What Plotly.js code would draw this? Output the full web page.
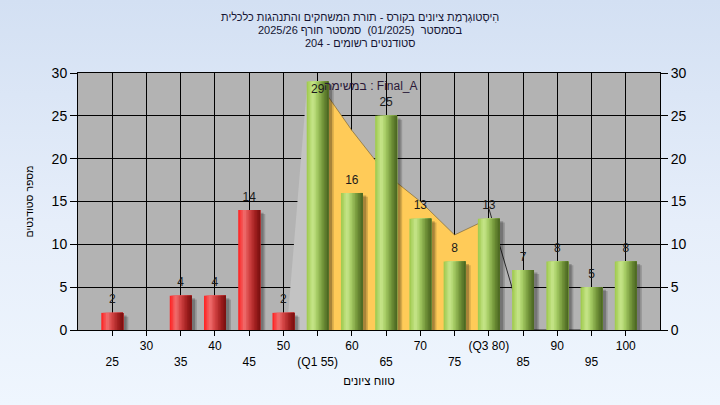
<!DOCTYPE html>
<html>
<head>
<meta charset="utf-8">
<script src="https://cdn.plot.ly/plotly-3.0.1.min.js"></script>
<style>
  html, body { margin: 0; padding: 0; }
  body { width: 720px; height: 405px; background: linear-gradient(to bottom, #d3e0f3 0%, #e6eefa 55%, #eff6fe 100%); }
  #chart { width: 720px; height: 405px; }
</style>
</head>
<body>
<div id="chart"></div>
<script>
// ---- data ----
const grades = [25, 30, 35, 40, 45, 50, 55, 60, 65, 70, 75, 80, 85, 90, 95, 100];
const counts = [2, 0, 4, 4, 14, 2, 29, 16, 25, 13, 8, 13, 7, 8, 5, 8];
const tickLabels = ['25', '30', '35', '40', '45', '50', '(Q1 55)', '60', '65', '70', '75', '(Q3 80)', '85', '90', '95', '100'];
const passGrade = 55;
// inter-quartile band (Q1 55 .. Q3 80) top edge
const bandX = [55, 60, 65, 70, 75, 80];
const bandY = [29, 23.3, 18.2, 15, 11.1, 13];
// lower whisker wedge and upper whisker line
const lowWhiskerX = [50.5, 53.5, 55];
const lowWhiskerY = [0, 29, 29];
const highWhiskerX = [80, 85.2, 95];
const highWhiskerY = [14.2, 0, 0];

const titleLines = [
  'הִיסְטוגְרָמַת ציונים בקורס - תורת המשחקים והתנהגות כלכלית',
  'בסמסטר  (01/2025)  סמסטר חורף 2025/26',
  'סטודנטים רשומים - 204'
];
const taskLabel = 'במשימה : Final_A';
const xTitle = 'טווח ציונים';
const yTitle = 'מספר סטודנטים';

// ---- styling ----
const FONT = '"Liberation Sans", Arial, sans-serif';
const BAR_W = 3.2;
const W = 720, H = 405, M = { l: 78, r: 60, t: 73, b: 75 };
const plotH = H - M.t - M.b;
const pyToPaper = py => (H - M.b - py) / plotH;
const titleRowsPx = [17, 30, 43];

const greenStops = [[0, [156, 200, 74]], [0.28, [200, 230, 140]], [0.45, [170, 208, 104]], [0.75, [112, 146, 56]], [1, [72, 98, 32]]];
const redStops = [[0, [255, 30, 30]], [0.28, [240, 112, 112]], [0.48, [214, 70, 70]], [0.78, [160, 30, 30]], [1, [118, 14, 14]]];

function interp(stops, t) {
  for (let i = 1; i < stops.length; i++) {
    if (t <= stops[i][0]) {
      const [t0, c0] = stops[i - 1], [t1, c1] = stops[i];
      const f = (t - t0) / (t1 - t0);
      const c = c0.map((v, k) => Math.round(v + (c1[k] - v) * f));
      return `rgb(${c[0]},${c[1]},${c[2]})`;
    }
  }
  const c = stops[stops.length - 1][1];
  return `rgb(${c[0]},${c[1]},${c[2]})`;
}

const traces = [];

// base subplot (drawn below the bars): band + whiskers
traces.push({
  type: 'scatter', x: lowWhiskerX, y: lowWhiskerY, mode: 'lines',
  line: { width: 0, color: 'rgba(0,0,0,0)' }, fill: 'tozeroy', fillcolor: '#c3c3c3',
  hoverinfo: 'skip', showlegend: false, xaxis: 'x', yaxis: 'y'
});
traces.push({
  type: 'scatter', x: bandX, y: bandY, mode: 'lines',
  line: { width: 1, color: 'rgba(130,105,50,0.7)' }, fill: 'tozeroy', fillcolor: '#ffcb58',
  hoverinfo: 'skip', showlegend: false, xaxis: 'x', yaxis: 'y'
});
traces.push({
  type: 'scatter', x: highWhiskerX, y: highWhiskerY, mode: 'lines',
  line: { width: 1, color: '#2a2a2a' },
  hoverinfo: 'skip', showlegend: false, xaxis: 'x', yaxis: 'y'
});

// shadows (overlay subplot)
[[0.75, 0.45, 'rgba(0,0,0,0.16)'], [0.5, 0.3, 'rgba(0,0,0,0.22)']].forEach(([dx, dy, col]) => {
  traces.push({
    type: 'bar', x: grades, y: counts.map(v => v > 0 ? v - dy : 0),
    width: BAR_W, offset: -BAR_W / 2 + dx,
    marker: { color: col, line: { width: 0 } },
    hoverinfo: 'skip', showlegend: false, xaxis: 'x', yaxis: 'y2'
  });
});

// cylinder strips
const N = 14;
for (let i = 0; i < N; i++) {
  const t = (i + 0.5) / N;
  const start = -BAR_W / 2 + i * BAR_W / N;
  traces.push({
    type: 'bar', x: grades, y: counts,
    width: BAR_W - i * BAR_W / N, offset: start,
    marker: { color: grades.map(g => interp(g < passGrade ? redStops : greenStops, t)), line: { width: 0 } },
    hoverinfo: 'skip', showlegend: false, xaxis: 'x', yaxis: 'y2'
  });
}

// value labels
const lblX = [], lblY = [], lblT = [];
grades.forEach((g, i) => {
  if (counts[i] > 0) { lblX.push(g); lblY.push(Math.min(counts[i] + 1.45, 28)); lblT.push(String(counts[i])); }
});
traces.push({
  type: 'scatter', mode: 'text', x: lblX, y: lblY, text: lblT,
  textposition: 'middle center', textfont: { family: FONT, size: 12, color: '#1a1a1a' },
  hoverinfo: 'skip', showlegend: false, xaxis: 'x', yaxis: 'y2', cliponaxis: false
});

const tickText = tickLabels.map((t, i) => (i % 2 === 0 ? '<br>' + t : t));

const annotations = titleLines.map((t, i) => ({
  text: t, xref: 'paper', yref: 'paper', x: (W / 2 - M.l) / (W - M.l - M.r), y: pyToPaper(titleRowsPx[i]),
  xanchor: 'center', yanchor: 'middle', showarrow: false,
  font: { family: FONT, size: 11, color: '#141432' }
}));
annotations.push({
  text: taskLabel, xref: 'paper', yref: 'paper', x: 0.503, y: pyToPaper(86),
  xanchor: 'center', yanchor: 'middle', showarrow: false,
  font: { family: FONT, size: 12, color: '#2a1838' }
});

const layout = {
  width: W, height: H,
  margin: M,
  paper_bgcolor: 'rgba(0,0,0,0)',
  plot_bgcolor: '#b3b3b3',
  barmode: 'overlay',
  showlegend: false,
  font: { family: FONT, color: '#000' },
  xaxis: {
    range: [20, 105], tickmode: 'array', tickvals: grades, ticktext: tickText,
    showgrid: true, gridcolor: '#000', gridwidth: 1,
    showline: true, linecolor: '#000', linewidth: 1, mirror: true,
    ticks: 'outside', ticklen: 5, tickcolor: '#000',
    zeroline: false, tickangle: 0,
    tickfont: { family: FONT, size: 12, color: '#000' },
    title: { text: xTitle, font: { family: FONT, size: 11.5, color: '#000' }, standoff: 8 }
  },
  yaxis: {
    range: [0, 30], tickmode: 'array', tickvals: [0, 5, 10, 15, 20, 25, 30],
    showgrid: true, gridcolor: '#000', gridwidth: 1,
    showline: true, linecolor: '#000', linewidth: 1,
    ticks: 'outside', ticklen: 7, tickcolor: '#000', zeroline: false,
    tickfont: { family: FONT, size: 14, color: '#000' },
    title: { text: yTitle, font: { family: FONT, size: 10.5, color: '#000' }, standoff: 15 }
  },
  yaxis2: {
    overlaying: 'y', side: 'right', range: [0, 30], tickmode: 'array', tickvals: [0, 5, 10, 15, 20, 25, 30],
    showgrid: false, showline: true, linecolor: '#000', linewidth: 1,
    ticks: 'outside', ticklen: 7, tickcolor: '#000', zeroline: false,
    tickfont: { family: FONT, size: 14, color: '#000' }
  },
  annotations: annotations
};

Plotly.newPlot('chart', traces, layout, { displayModeBar: false, staticPlot: true });
</script>
</body>
</html>
